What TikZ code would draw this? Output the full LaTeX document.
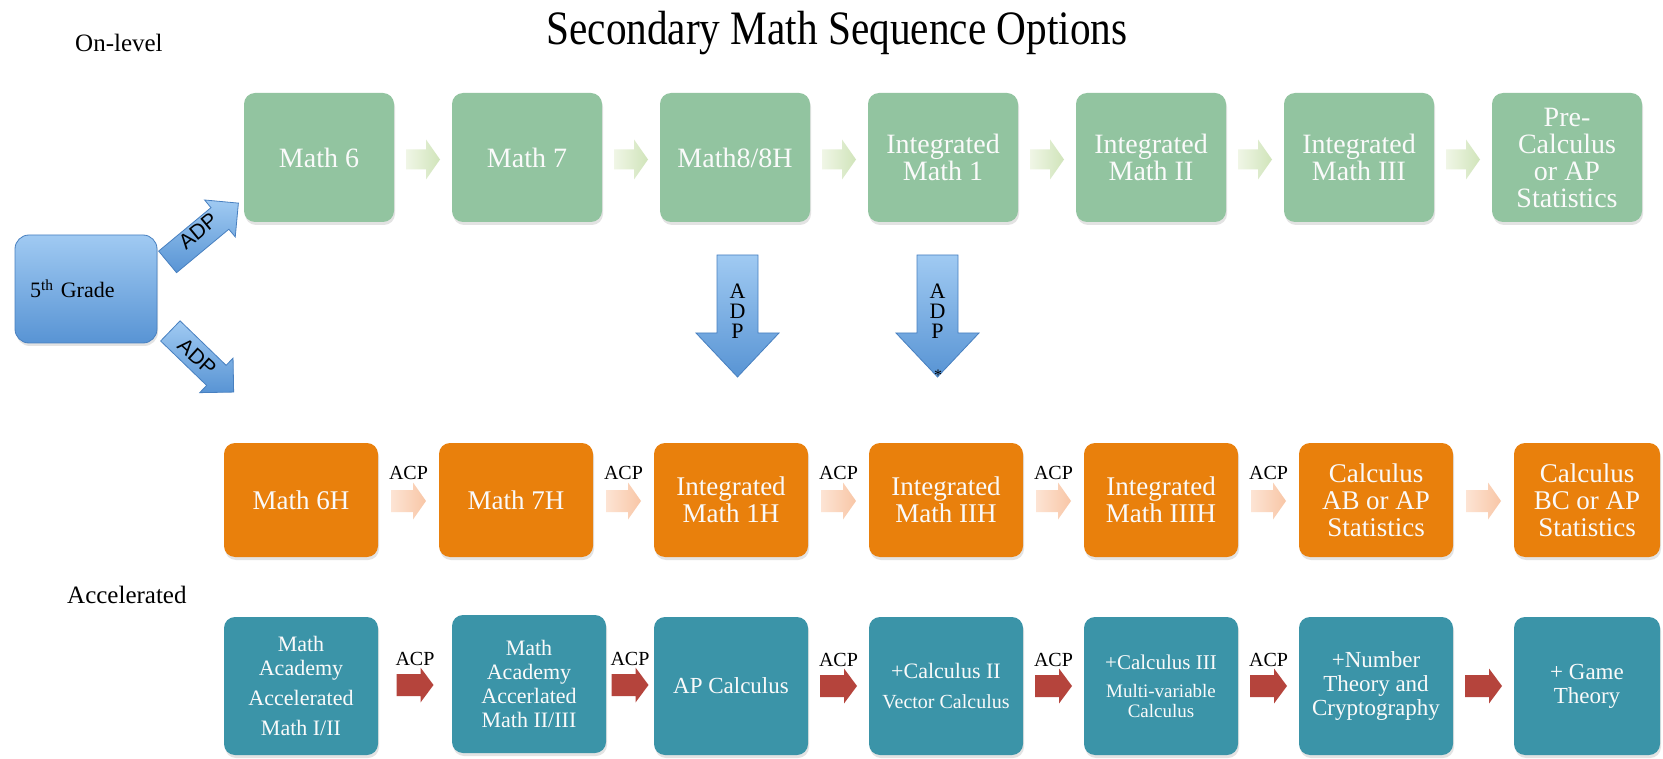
\documentclass[tikz,border=0pt]{standalone}
\usepackage{fontspec}
\setmainfont{Liberation Serif}
\newfontfamily\sansf{Liberation Sans}
\usetikzlibrary{shadows,calc}
\definecolor{mgreen}{RGB}{146,196,160}
\definecolor{morange}{RGB}{233,128,12}
\definecolor{mteal}{RGB}{59,148,168}
\definecolor{garrL}{RGB}{240,246,230}
\definecolor{garrR}{RGB}{208,228,186}
\definecolor{parrL}{RGB}{253,228,212}
\definecolor{parrR}{RGB}{248,198,166}
\definecolor{rarr}{RGB}{181,68,60}
\definecolor{bluetop}{RGB}{160,202,242}
\definecolor{bluebot}{RGB}{88,148,212}
\definecolor{blueedge}{RGB}{72,128,192}
\definecolor{boxtext}{RGB}{250,250,250}
\newcommand\blockarr[7]{%
  \path[#1, shift={(#2)}, rotate=#3] (-#4/2,-#5/2) -- (#4/2-#7,-#5/2) -- (#4/2-#7,-#6/2) -- (#4/2,0)
     -- (#4/2-#7,#6/2) -- (#4/2-#7,#5/2) -- (-#4/2,#5/2) -- cycle;}
\begin{document}
\begin{tikzpicture}[x=1pt,y=-1pt,
  box/.style={rounded corners=11pt, align=center, text=boxtext, inner sep=0pt,
    drop shadow={opacity=0.22, shadow xshift=1pt, shadow yshift=-3pt}},
  gbox/.style={box, fill=mgreen, minimum width=150pt, minimum height=129pt, font=\fontsize{28}{27}\selectfont},
  obox/.style={box, fill=morange, minimum width=154pt, minimum height=114pt, font=\fontsize{27}{27}\selectfont},
  tbox/.style={box, fill=mteal, minimum width=154pt, minimum height=138pt, font=\fontsize{22}{24}\selectfont},
  gradebox/.style={rounded corners=14pt, top color=bluetop, bottom color=bluebot, draw=blueedge, line width=0.8pt,
    minimum width=142pt, minimum height=108pt, text width=112pt, align=left, inner sep=15pt,
    font=\fontsize{22}{24}\selectfont, drop shadow={opacity=0.22, shadow xshift=1pt, shadow yshift=-3pt}},
  garrow/.style={left color=garrL, right color=garrR},
  parrow/.style={left color=parrL, right color=parrR},
  rarrow/.style={fill=rarr},
  barrow/.style={top color=bluetop, bottom color=bluebot, draw=blueedge, line width=0.8pt},
  acp/.style={font=\fontsize{20}{20}\selectfont, text=black, inner sep=0pt},
  heading/.style={font=\fontsize{25}{25}\selectfont, text=black, inner sep=0pt},
  adpdiag/.style={font=\sansf\fontsize{21}{21}\selectfont, text=black, inner sep=0pt},
  adpdown/.style={font=\fontsize{22}{20}\selectfont, text=black, align=center, inner sep=0pt}
]
\useasboundingbox (0,0) rectangle (1663,759);
\fill[white] (0,0) rectangle (1663,759);

% title and headings
\node[anchor=base, inner sep=0pt, font=\fontsize{48}{50}\selectfont] (title) at (837,45)
  {\scalebox{0.86}[1]{Secondary Math Sequence Options}};
\node[heading, anchor=base west] (onlevel) at (75,52) {On-level};
\node[heading, anchor=base west] (accel) at (67,603) {Accelerated};

% green row
\node[gbox] (g1) at (319,157.5) {Math 6};
\node[gbox] (g2) at (527,157.5) {Math 7};
\node[gbox] (g3) at (735,157.5) {Math8/8H};
\node[gbox] (g4) at (943,157.5) {Integrated\\Math 1};
\node[gbox] (g5) at (1151,157.5) {Integrated\\Math II};
\node[gbox] (g6) at (1359,157.5) {Integrated\\Math III};
\node[gbox] (g7) at (1567,157.5) {Pre-\\Calculus\\or AP\\Statistics};
\foreach \a/\b [count=\i] in {g1/g2,g2/g3,g3/g4,g4/g5,g5/g6,g6/g7}{
  \coordinate (ga\i) at ($(\a.east)!0.5!(\b.west)+(0,2)$);
  \blockarr{garrow}{ga\i}{0}{34}{20}{40}{14}
}

% orange row
\node[obox] (o1) at (301,500) {Math 6H};
\node[obox] (o2) at (516,500) {Math 7H};
\node[obox] (o3) at (731,500) {Integrated\\Math 1H};
\node[obox] (o4) at (946,500) {Integrated\\Math IIH};
\node[obox] (o5) at (1161,500) {Integrated\\Math IIIH};
\node[obox] (o6) at (1376,500) {Calculus\\AB or AP\\Statistics};
\node[obox, minimum width=146pt] (o7) at (1587,500) {Calculus\\BC or AP\\Statistics};
\foreach \a/\b [count=\i] in {o1/o2,o2/o3,o3/o4,o4/o5,o5/o6,o6/o7}{
  \coordinate (oa\i) at ($(\a.east)!0.5!(\b.west)+(0,1)$);
  \blockarr{parrow}{oa\i}{0}{35}{22}{37}{13}
}
\foreach \i in {1,...,5}{
  \node[acp, anchor=base] (oacp\i) at ([yshift=22pt]oa\i) {ACP};
}

% teal row
\node[tbox] (t1) at (301,686) {Math\\Academy\\[6pt]Accelerated\\[6pt]Math I/II};
\node[tbox] (t2) at (529,684) {Math\\Academy\\Accerlated\\Math II/III};
\node[tbox, font=\fontsize{23}{24}\selectfont] (t3) at (731,686) {AP Calculus};
\node[tbox] (t4) at (946,686) {+Calculus II\\[6pt]{\fontsize{20}{22}\selectfont Vector Calculus}};
\node[tbox, font=\fontsize{21}{20}\selectfont] (t5) at (1161,686) {+Calculus III\\[8pt]{\fontsize{19}{19}\selectfont Multi-variable}\\{\fontsize{19}{19}\selectfont Calculus}};
\node[tbox, font=\fontsize{23}{24}\selectfont] (t6) at (1376,686) {+Number\\Theory and\\Cryptography};
\node[tbox, font=\fontsize{23}{24}\selectfont, minimum width=146pt] (t7) at (1587,686) {+ Game\\Theory};
\foreach \a/\b [count=\i] in {t1/t2,t2/t3,t3/t4,t4/t5,t5/t6,t6/t7}{
  \coordinate (ta\i) at ($(\a.east)!0.5!(\b.west)$);
  \blockarr{rarrow}{ta\i}{0}{37}{22}{35}{13}
}
\foreach \i in {1,...,5}{
  \node[acp, anchor=base] (tacp\i) at ([yshift=20pt]ta\i) {ACP};
}

% 5th grade and ADP arrows
\node[gradebox] (fifth) at (86,289) {5\textsuperscript{th} Grade};
\coordinate (adp1) at (203,232.5);
\coordinate (adp2) at (202,361.5);
\blockarr{barrow}{adp1}{39.7}{92}{28}{48}{24}
\blockarr{barrow}{adp2}{-44}{88}{28}{48}{24}
\node[adpdiag, rotate=39.7] (adp1t) at (198,231) {ADP};
\node[adpdiag, rotate=-42] (adp2t) at (197,357) {ADP};

\coordinate (d1) at (737.5,316);
\coordinate (d2) at (937.5,316);
\blockarr{barrow}{d1}{-90}{122}{41}{83}{44}
\blockarr{barrow}{d2}{-90}{122}{41}{83}{44}
\node[adpdown] (d1t) at (737.5,311) {A\\D\\P};
\node[adpdown] (d2t) at (937.5,311) {A\\D\\P};
\node[adpdown, font=\fontsize{16}{16}\selectfont] (d2s) at (938,375) {*};
\end{tikzpicture}
\end{document}
